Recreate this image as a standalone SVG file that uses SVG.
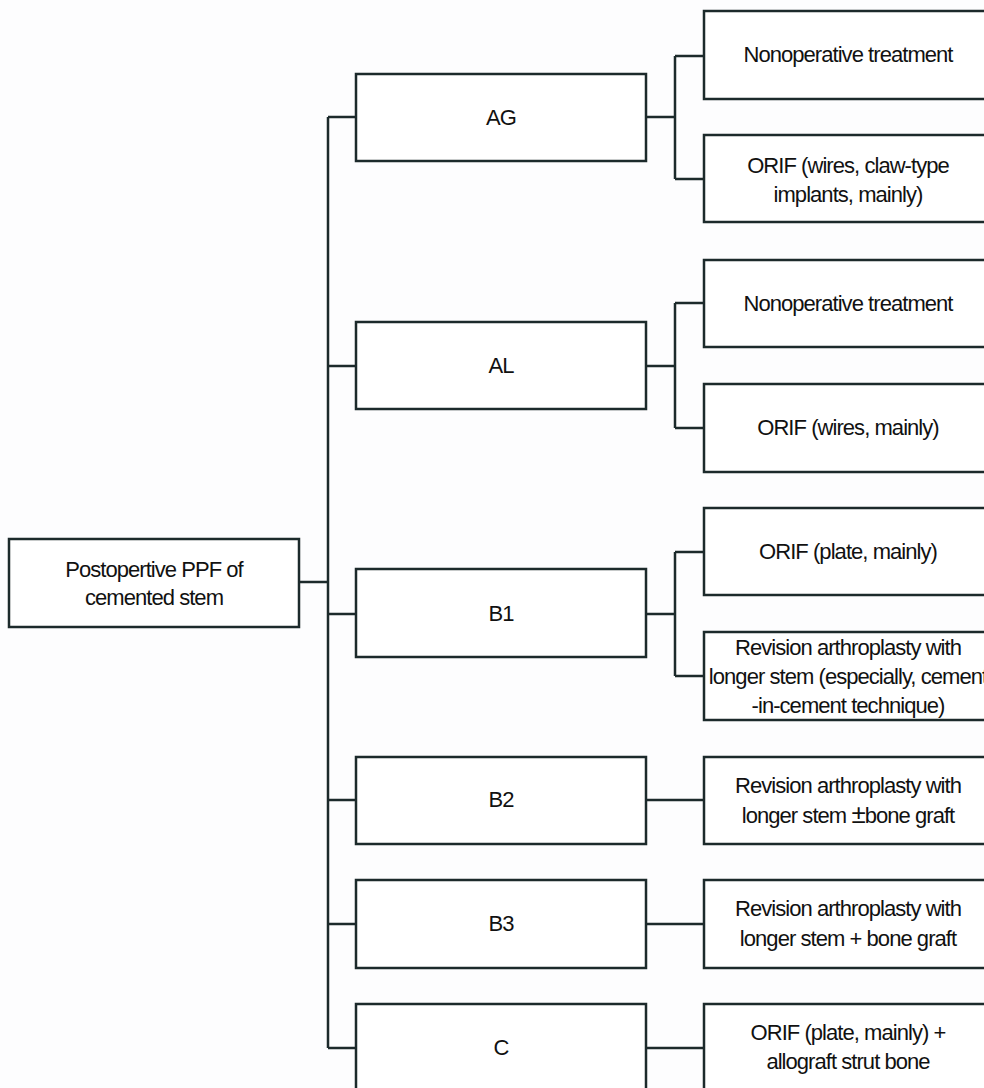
<svg xmlns="http://www.w3.org/2000/svg" width="984" height="1088" viewBox="0 0 984 1088">
<style>
.box{fill:#ffffff;stroke:#1c2a2b;stroke-width:2.5}
.t{font-family:"Liberation Sans",Arial,sans-serif;font-size:22px;letter-spacing:-0.95px;fill:#111111;text-anchor:middle}
.c{fill:none;stroke:#1c2a2b;stroke-width:2.5}
</style>
<rect width="984" height="1088" fill="#fdfdfe"/>
<g id="connectors">
<path class="c" d="M299,582H328M328,117V1048"/>
<path class="c" d="M328,117H356M328,366H356M328,614H356M328,800H356M328,924H356M328,1048H356"/>
<path class="c" d="M646,117H675M675,56V179M675,56H704M675,179H704"/>
<path class="c" d="M646,366H675M675,303V428M675,303H704M675,428H704"/>
<path class="c" d="M646,614H675M675,552V676M675,552H704M675,676H704"/>
<path class="c" d="M646,800H704M646,924H704M646,1048H704"/>
</g>
<g id="root"><rect class="box" x="9" y="539" width="290" height="88"/><text class="t" x="154" y="577">Postopertive PPF of</text><text class="t" x="154" y="605">cemented stem</text></g>
<g id="AG"><rect class="box" x="356" y="74" width="290" height="87"/><text class="t" x="501" y="125">AG</text></g>
<g id="AL"><rect class="box" x="356" y="322" width="290" height="87"/><text class="t" x="501" y="373">AL</text></g>
<g id="B1"><rect class="box" x="356" y="569" width="290" height="88"/><text class="t" x="501" y="621">B1</text></g>
<g id="B2"><rect class="box" x="356" y="757" width="290" height="87"/><text class="t" x="501" y="807">B2</text></g>
<g id="B3"><rect class="box" x="356" y="880" width="290" height="88"/><text class="t" x="501" y="931">B3</text></g>
<g id="C"><rect class="box" x="356" y="1004" width="290" height="90"/><text class="t" x="501" y="1055">C</text></g>
<g id="AG-non"><rect class="box" x="704" y="11" width="300" height="88"/><text class="t" x="848" y="62">Nonoperative treatment</text></g>
<g id="AG-orif"><rect class="box" x="704" y="135" width="300" height="87"/><text class="t" x="848" y="173">ORIF (wires, claw-type</text><text class="t" x="848" y="202">implants, mainly)</text></g>
<g id="AL-non"><rect class="box" x="704" y="260" width="300" height="87"/><text class="t" x="848" y="311">Nonoperative treatment</text></g>
<g id="AL-orif"><rect class="box" x="704" y="384" width="300" height="88"/><text class="t" x="848" y="435">ORIF (wires, mainly)</text></g>
<g id="B1-orif"><rect class="box" x="704" y="508" width="300" height="87"/><text class="t" x="848" y="559">ORIF (plate, mainly)</text></g>
<g id="B1-rev"><rect class="box" x="704" y="632" width="300" height="88"/><text class="t" x="848" y="655">Revision arthroplasty with</text><text class="t" x="848" y="684">longer stem (especially, cement</text><text class="t" x="848" y="713">-in-cement technique)</text></g>
<g id="B2-rev"><rect class="box" x="704" y="757" width="300" height="87"/><text class="t" x="848" y="793">Revision arthroplasty with</text><text class="t" x="848" y="823">longer stem <tspan font-size="26px">±</tspan>bone graft</text></g>
<g id="B3-rev"><rect class="box" x="704" y="880" width="300" height="88"/><text class="t" x="848" y="916">Revision arthroplasty with</text><text class="t" x="848" y="946">longer stem + bone graft</text></g>
<g id="C-orif"><rect class="box" x="704" y="1004" width="300" height="90"/><text class="t" x="848" y="1040">ORIF (plate, mainly) +</text><text class="t" x="848" y="1069">allograft strut bone</text></g>
</svg>
